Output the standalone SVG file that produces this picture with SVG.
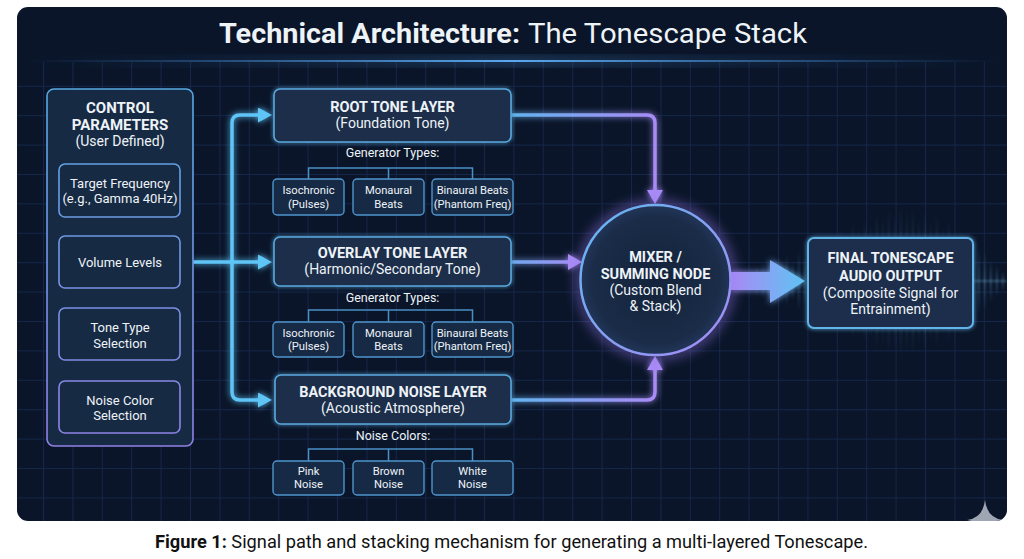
<svg xmlns="http://www.w3.org/2000/svg" width="1024" height="559" viewBox="0 0 1024 559">
<defs>
<style>
.t{font-family:Roboto,"Liberation Sans",sans-serif;fill:#eef3f8;text-anchor:middle}
.b{font-weight:700}
.h{font-size:14.5px;font-weight:700}
.s{font-size:14px}
.c{font-size:13px}
.g{font-size:12.5px}
.x{font-size:11.2px}
.box{fill:#1a2d48;stroke:#5aa9de;stroke-width:1.6}
.sub{fill:#172a45;stroke:#4d95cc;stroke-width:1.4}
.ctl{fill:#172a44;stroke:url(#ctlGrad);stroke-width:1.6}
.tree{fill:none;stroke:#4b8fc4;stroke-width:1.5}
.cb{fill:none;stroke:#5ec4f6;stroke-width:3.5;marker-end:url(#ahB)}
.cp{fill:none;stroke-width:3.5;marker-end:url(#ahP)}
.w{fill:url(#wave)}
</style>
<clipPath id="panelClip"><rect x="17" y="7" width="990" height="514" rx="11"/></clipPath>
<pattern id="grid" width="29.4" height="29.4" patternUnits="userSpaceOnUse" x="13.6" y="27">
<path d="M0,0.5 H29.4 M0.5,0 V29.4" stroke="#15264a" stroke-width="1" fill="none"/>
</pattern>
<linearGradient id="sep" x1="0" y1="0" x2="1" y2="0">
<stop offset="0" stop-color="#3a7fc8" stop-opacity="0"/>
<stop offset="0.5" stop-color="#5aa8ee" stop-opacity="1"/>
<stop offset="1" stop-color="#3a7fc8" stop-opacity="0"/>
</linearGradient>
<linearGradient id="ctlGrad" gradientUnits="userSpaceOnUse" x1="0" y1="89" x2="0" y2="446">
<stop offset="0" stop-color="#56a9e2"/>
<stop offset="1" stop-color="#9080e6"/>
</linearGradient>
<linearGradient id="rGrad" gradientUnits="userSpaceOnUse" x1="511" y1="0" x2="655" y2="0">
<stop offset="0" stop-color="#62b3ee"/>
<stop offset="1" stop-color="#a88bf5"/>
</linearGradient>
<linearGradient id="oGrad" gradientUnits="userSpaceOnUse" x1="511" y1="0" x2="582" y2="0">
<stop offset="0" stop-color="#6fa9ee"/>
<stop offset="1" stop-color="#a88bf5"/>
</linearGradient>
<linearGradient id="bigArrow" gradientUnits="userSpaceOnUse" x1="731" y1="0" x2="805" y2="0">
<stop offset="0" stop-color="#a88bf5"/>
<stop offset="1" stop-color="#5fc3f3"/>
</linearGradient>
<linearGradient id="mixGrad" x1="0" y1="0" x2="1" y2="1">
<stop offset="0" stop-color="#62b8f0"/>
<stop offset="1" stop-color="#a58af5"/>
</linearGradient>
<radialGradient id="mixFill" cx="0.5" cy="0.5" r="0.5">
<stop offset="0" stop-color="#14233b"/>
<stop offset="0.85" stop-color="#1a2c48"/>
<stop offset="1" stop-color="#22365a"/>
</radialGradient>
<linearGradient id="wave" x1="0" y1="0" x2="0" y2="1">
<stop offset="0" stop-color="#7cc6f2" stop-opacity="0"/>
<stop offset="0.5" stop-color="#7cc6f2" stop-opacity="0.4"/>
<stop offset="1" stop-color="#7cc6f2" stop-opacity="0"/>
</linearGradient>
<marker id="ahB" markerUnits="userSpaceOnUse" markerWidth="15" markerHeight="15" refX="4" refY="7.5" orient="auto">
<path d="M0,0 L14,7.5 L0,15 Z" fill="#5ec4f6"/>
</marker>
<marker id="ahP" markerUnits="userSpaceOnUse" markerWidth="15" markerHeight="16" refX="4" refY="8" orient="auto">
<path d="M0,0 L14,8 L0,16 Z" fill="#a88bf5"/>
</marker>
<filter id="glow" x="-20%" y="-20%" width="140%" height="140%">
<feGaussianBlur in="SourceGraphic" stdDeviation="3" result="bl"/>
<feMerge><feMergeNode in="bl"/><feMergeNode in="SourceGraphic"/></feMerge>
</filter>
<filter id="glowS" x="-10%" y="-10%" width="120%" height="120%">
<feGaussianBlur in="SourceGraphic" stdDeviation="2" result="bl"/>
<feMerge><feMergeNode in="bl"/><feMergeNode in="SourceGraphic"/></feMerge>
</filter>
<filter id="blur6" x="-30%" y="-30%" width="160%" height="160%">
<feGaussianBlur stdDeviation="6"/>
</filter>
<filter id="soft" x="-10%" y="-10%" width="120%" height="120%">
<feGaussianBlur stdDeviation="0.8"/>
</filter>
</defs>

<rect width="1024" height="559" fill="#ffffff"/>
<g id="panel">
<rect x="17" y="7" width="990" height="514" rx="11" fill="#0a1529"/>
<rect x="17" y="62" width="990" height="459" fill="url(#grid)" clip-path="url(#panelClip)"/>
<rect x="25" y="57" width="975" height="8" fill="url(#sep)" opacity="0.35" filter="url(#blur6)"/>
<rect x="25" y="60" width="975" height="2" fill="url(#sep)"/>
</g>

<g id="title">
<text class="t b" x="219" y="43" font-size="28" textLength="301" lengthAdjust="spacingAndGlyphs" style="text-anchor:start">Technical Architecture:</text>
<text class="t" x="528" y="43" font-size="28" textLength="279" lengthAdjust="spacingAndGlyphs" style="text-anchor:start">The Tonescape Stack</text>
</g>

<g id="waveform" clip-path="url(#panelClip)" filter="url(#soft)">
<rect class="w" x="750" y="271" width="1.5" height="20"/>
<rect class="w" x="756" y="267" width="1.5" height="28"/>
<rect class="w" x="762" y="263" width="1.5" height="36"/>
<rect class="w" x="768" y="269" width="1.5" height="24"/>
<rect class="w" x="774" y="259" width="1.5" height="44"/>
<rect class="w" x="780" y="265" width="1.5" height="32"/>
<rect class="w" x="786" y="255" width="1.5" height="52"/>
<rect class="w" x="792" y="261" width="1.5" height="40"/>
<rect class="w" x="798" y="251" width="1.5" height="60"/>
<rect class="w" x="804" y="257" width="1.5" height="48"/>
<rect class="w" x="810" y="247" width="1.5" height="68"/>
<rect class="w" x="816" y="241" width="1.5" height="80"/>
<rect class="w" x="822" y="245" width="1.5" height="72"/>
<rect class="w" x="828" y="235" width="1.5" height="92"/>
<rect class="w" x="834" y="239" width="1.5" height="84"/>
<rect class="w" x="840" y="229" width="1.5" height="104"/>
<rect class="w" x="846" y="233" width="1.5" height="96"/>
<rect class="w" x="852" y="223" width="1.5" height="116"/>
<rect class="w" x="858" y="227" width="1.5" height="108"/>
<rect class="w" x="864" y="219" width="1.5" height="124"/>
<rect class="w" x="870" y="223" width="1.5" height="116"/>
<rect class="w" x="876" y="213" width="1.5" height="136"/>
<rect class="w" x="882" y="217" width="1.5" height="128"/>
<rect class="w" x="888" y="209" width="1.5" height="144"/>
<rect class="w" x="894" y="215" width="1.5" height="132"/>
<rect class="w" x="900" y="205" width="1.5" height="152"/>
<rect class="w" x="906" y="211" width="1.5" height="140"/>
<rect class="w" x="912" y="207" width="1.5" height="148"/>
<rect class="w" x="918" y="217" width="1.5" height="128"/>
<rect class="w" x="924" y="211" width="1.5" height="140"/>
<rect class="w" x="930" y="221" width="1.5" height="120"/>
<rect class="w" x="936" y="215" width="1.5" height="132"/>
<rect class="w" x="942" y="227" width="1.5" height="108"/>
<rect class="w" x="948" y="221" width="1.5" height="120"/>
<rect class="w" x="954" y="233" width="1.5" height="96"/>
<rect class="w" x="960" y="229" width="1.5" height="104"/>
<rect class="w" x="966" y="239" width="1.5" height="84"/>
<rect class="w" x="972" y="235" width="1.5" height="92"/>
<rect class="w" x="978" y="247" width="1.5" height="68"/>
<rect class="w" x="984" y="251" width="1.5" height="60"/>
<rect class="w" x="990" y="259" width="1.5" height="44"/>
<rect class="w" x="996" y="265" width="1.5" height="32"/>
<rect class="w" x="1002" y="271" width="1.5" height="20"/>
<rect x="940" y="280" width="67" height="2" fill="#7cc6f2" opacity="0.3"/>
</g>

<g id="connectors">
<g filter="url(#glow)">
<path class="cb" d="M193,262 H262"/>
<path class="cb" d="M232,262 V123 Q232,115 240,115 H262"/>
<path class="cb" d="M232,262 V392 Q232,400 240,400 H262"/>
</g>
<g filter="url(#glow)">
<path class="cp" stroke="url(#rGrad)" d="M511,115 H647 Q655,115 655,123 V194"/>
<path class="cp" stroke="url(#oGrad)" d="M511,262 H572"/>
<path class="cp" stroke="url(#rGrad)" d="M511,400 H647 Q655,400 655,392 V366"/>
<path d="M731,272 H770 V260 L805,281 L770,303 V290 H731 Z" fill="url(#bigArrow)"/>
</g>
<g id="trees">
<path class="tree" d="M308.5,179 V168 H472.5 V179 M388.5,168 V179"/>
<path class="tree" d="M308.5,322 V310 H472.5 V322 M388.5,310 V322"/>
<path class="tree" d="M308.5,461 V449 H472.5 V461 M388.5,449 V461"/>
</g>
</g>

<g id="control-parameters">
<rect class="ctl" x="47" y="89" width="146" height="357" rx="7"/>
<text class="t h" x="120" y="113" style="font-size:15px">CONTROL</text>
<text class="t h" x="120" y="130" style="font-size:15px">PARAMETERS</text>
<text class="t s" x="120" y="146">(User Defined)</text>
</g>
<g id="target-frequency">
<rect class="ctl" x="59" y="164" width="121" height="53" rx="6"/>
<text class="t c" x="120" y="188">Target Frequency</text>
<text class="t c" x="120" y="203">(e.g., Gamma 40Hz)</text>
</g>
<g id="volume-levels">
<rect class="ctl" x="59" y="236" width="121" height="52" rx="6"/>
<text class="t c" x="120" y="267">Volume Levels</text>
</g>
<g id="tone-type">
<rect class="ctl" x="59" y="308" width="121" height="52" rx="6"/>
<text class="t c" x="120" y="332">Tone Type</text>
<text class="t c" x="120" y="348">Selection</text>
</g>
<g id="noise-color">
<rect class="ctl" x="59" y="381" width="121" height="52" rx="6"/>
<text class="t c" x="120" y="405">Noise Color</text>
<text class="t c" x="120" y="420">Selection</text>
</g>

<g id="root-tone-layer">
<rect class="box" x="274" y="89" width="237" height="53" rx="6" filter="url(#glowS)"/>
<text class="t h" x="392.5" y="112">ROOT TONE LAYER</text>
<text class="t s" x="392.5" y="128">(Foundation Tone)</text>
<text class="t g" x="392.5" y="157">Generator Types:</text>
</g>
<g id="root-isochronic">
<rect class="sub" x="273" y="179" width="71" height="36" rx="4"/>
<text class="t x" x="308.5" y="194">Isochronic</text>
<text class="t x" x="308.5" y="208">(Pulses)</text>
</g>
<g id="root-monaural">
<rect class="sub" x="353" y="179" width="71" height="36" rx="4"/>
<text class="t x" x="388.5" y="194">Monaural</text>
<text class="t x" x="388.5" y="208">Beats</text>
</g>
<g id="root-binaural">
<rect class="sub" x="432" y="179" width="81" height="36" rx="4"/>
<text class="t x" x="472.5" y="194">Binaural Beats</text>
<text class="t x" x="472.5" y="208">(Phantom Freq)</text>
</g>

<g id="overlay-tone-layer">
<rect class="box" x="274" y="237" width="237" height="49" rx="6" filter="url(#glowS)"/>
<text class="t h" x="392.5" y="258">OVERLAY TONE LAYER</text>
<text class="t s" x="392.5" y="274">(Harmonic/Secondary Tone)</text>
<text class="t g" x="392.5" y="302">Generator Types:</text>
</g>
<g id="overlay-isochronic">
<rect class="sub" x="273" y="322" width="71" height="35" rx="4"/>
<text class="t x" x="308.5" y="337">Isochronic</text>
<text class="t x" x="308.5" y="350">(Pulses)</text>
</g>
<g id="overlay-monaural">
<rect class="sub" x="353" y="322" width="71" height="35" rx="4"/>
<text class="t x" x="388.5" y="337">Monaural</text>
<text class="t x" x="388.5" y="350">Beats</text>
</g>
<g id="overlay-binaural">
<rect class="sub" x="432" y="322" width="81" height="35" rx="4"/>
<text class="t x" x="472.5" y="337">Binaural Beats</text>
<text class="t x" x="472.5" y="350">(Phantom Freq)</text>
</g>

<g id="background-noise-layer">
<rect class="box" x="275" y="375" width="236" height="49" rx="6" filter="url(#glowS)"/>
<text class="t h" x="393" y="397">BACKGROUND NOISE LAYER</text>
<text class="t s" x="393" y="413">(Acoustic Atmosphere)</text>
<text class="t g" x="393" y="440">Noise Colors:</text>
</g>
<g id="pink-noise">
<rect class="sub" x="273" y="461" width="71" height="34" rx="4"/>
<text class="t x" x="308.5" y="475">Pink</text>
<text class="t x" x="308.5" y="488">Noise</text>
</g>
<g id="brown-noise">
<rect class="sub" x="353" y="461" width="71" height="34" rx="4"/>
<text class="t x" x="388.5" y="475">Brown</text>
<text class="t x" x="388.5" y="488">Noise</text>
</g>
<g id="white-noise">
<rect class="sub" x="432" y="461" width="81" height="34" rx="4"/>
<text class="t x" x="472.5" y="475">White</text>
<text class="t x" x="472.5" y="488">Noise</text>
</g>

<g id="mixer">
<circle cx="655.5" cy="280" r="76" fill="none" stroke="#9a78f0" stroke-width="8" opacity="0.55" filter="url(#blur6)"/>
<circle cx="655.5" cy="280" r="75" fill="url(#mixFill)" stroke="url(#mixGrad)" stroke-width="2.5"/>
<text class="t h" x="655.5" y="262">MIXER /</text>
<text class="t h" x="655.5" y="279">SUMMING NODE</text>
<text class="t s" x="655.5" y="295">(Custom Blend</text>
<text class="t s" x="655.5" y="311">&amp; Stack)</text>
</g>

<g id="final-output">
<rect x="808" y="238" width="165" height="90" rx="6" fill="#1a2f4c" stroke="#62b4e8" stroke-width="2" filter="url(#glowS)"/>
<text class="t h" x="890.5" y="263">FINAL TONESCAPE</text>
<text class="t h" x="890.5" y="281">AUDIO OUTPUT</text>
<text class="t s" x="890.5" y="298">(Composite Signal for</text>
<text class="t s" x="890.5" y="314">Entrainment)</text>
</g>

<g id="sparkle" clip-path="url(#panelClip)">
<path d="M985,500 Q987,518 1003,520 Q987,522 985,540 Q983,522 967,520 Q983,518 985,500 Z" fill="#9ea6b4"/>
</g>

<g id="caption">
<text x="155" y="548" font-family="Roboto,'Liberation Sans',sans-serif" font-size="18" fill="#111" textLength="713" lengthAdjust="spacingAndGlyphs"><tspan font-weight="700">Figure 1:</tspan> Signal path and stacking mechanism for generating a multi-layered Tonescape.</text>
</g>
</svg>
